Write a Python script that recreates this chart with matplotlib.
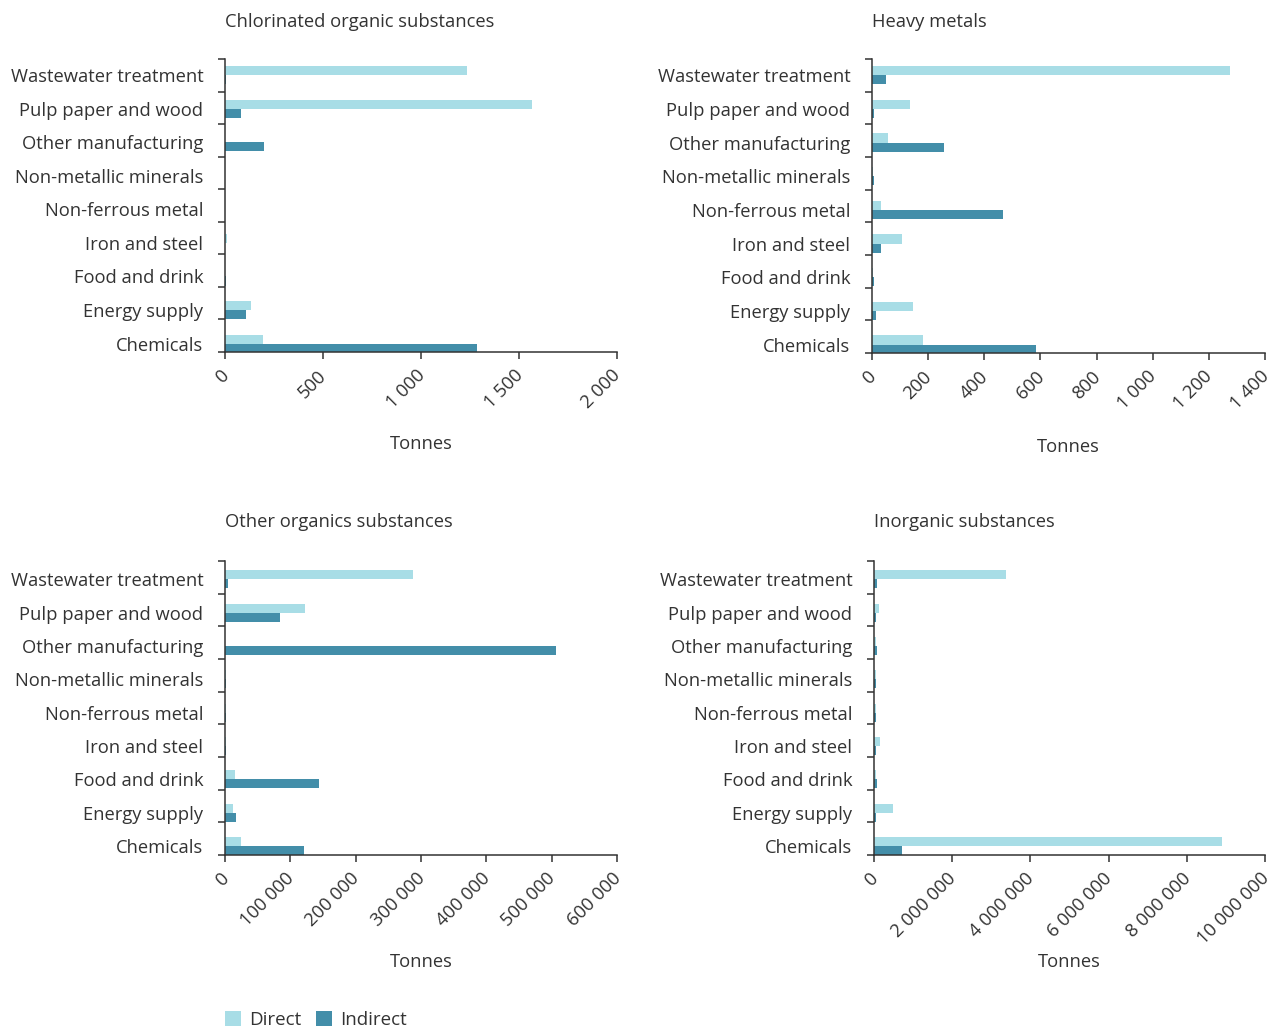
import numpy as np
import matplotlib
matplotlib.use("Agg")
import matplotlib.pyplot as plt
from matplotlib.ticker import FuncFormatter
from matplotlib.patches import Patch
import matplotlib.transforms as mtransforms

plt.rcParams['font.family'] = ['Open Sans', 'DejaVu Sans']

categories = ["Wastewater treatment", "Pulp paper and wood", "Other manufacturing",
              "Non-metallic minerals", "Non-ferrous metal", "Iron and steel",
              "Food and drink", "Energy supply", "Chemicals"]
series_names = ["Direct", "Indirect"]

chlorinated_direct = [1234, 1566, 0, 0, 1, 12, 1, 133, 194]
chlorinated_indirect = [4, 82, 199, 0, 1, 2, 4, 107, 1285]

heavy_direct = [1275, 135, 57, 5, 32, 107, 5, 146, 182]
heavy_indirect = [50, 6, 256, 7, 466, 32, 7, 14, 584]

organics_direct = [287700, 122400, 0, 1200, 1000, 1000, 15300, 12000, 24500]
organics_indirect = [4600, 84200, 506600, 1500, 1500, 1500, 143900, 17000, 120900]

inorganic_direct = [3380000, 130000, 50000, 45000, 45000, 150000, 45000, 486000, 8900000]
inorganic_indirect = [77000, 60000, 70000, 60000, 60000, 60000, 70000, 60000, 716000]

titles = ["Chlorinated organic substances", "Heavy metals",
          "Other organics substances", "Inorganic substances"]
xticks_list = [np.arange(0, 2001, 500), np.arange(0, 1401, 200),
               np.arange(0, 600001, 100000), np.arange(0, 10000001, 2000000)]
xlabel_text = "Tonnes"

LIGHT = "#a8dde6"
DARK = "#438ea9"
TXT = "#333333"
AX = "#333333"

W, H = 1272, 1028
fig = plt.figure(figsize=(W / 100, H / 100), dpi=100)

# pixel boxes: left, right, top, bottom ; ylim (bottom, top) in category units
boxes = [(225, 617, 59, 352), (872, 1265, 59, 353), (225, 617, 561, 855), (874, 1265, 561, 855)]
ylims = [(8.25, -0.48), (8.25, -0.48), (8.27, -0.55), (8.27, -0.55)]
xlab_y = [444, 447, 962, 962]
title_y = [22, 22, 522, 522]

data = [(chlorinated_direct, chlorinated_indirect), (heavy_direct, heavy_indirect),
        (organics_direct, organics_indirect), (inorganic_direct, inorganic_indirect)]

fmt = FuncFormatter(lambda v, p: f"{v:,.0f}".replace(",", " "))
FS = 13.2
bh = 0.27

for i, ((l, r, t, b), (d, ind)) in enumerate(zip(boxes, data)):
    ax = fig.add_axes([l / W, 1 - b / H, (r - l) / W, (b - t) / H])
    y = np.arange(len(categories))
    ax.barh(y - bh / 2, d, height=bh, color=LIGHT, label=series_names[0])
    ax.barh(y + bh / 2, ind, height=bh, color=DARK, label=series_names[1])
    xt = xticks_list[i]
    ax.set_xlim(0, xt[-1])
    ax.set_ylim(*ylims[i])
    ax.set_xticks(xt)
    ax.xaxis.set_major_formatter(fmt)
    ax.set_yticks(y)
    ax.set_yticklabels(categories)
    ax.set_yticks(np.linspace(ylims[i][0], ylims[i][1], len(categories) + 1), minor=True)
    ax.tick_params(axis='y', which='major', length=0, pad=15.5, labelsize=FS, labelcolor=TXT)
    ax.tick_params(axis='y', which='minor', length=5, width=1.1, color=AX)
    ax.tick_params(axis='x', which='major', length=5, width=1.1, color=AX, labelsize=FS,
                   labelcolor=TXT, pad=2)
    for lab in ax.get_xticklabels():
        lab.set_rotation(45)
        lab.set_ha('right')
        lab.set_va('center')
        lab.set_rotation_mode('anchor')
        lab.set_transform(lab.get_transform() + mtransforms.ScaledTranslation(1 / 100, -11 / 100, fig.dpi_scale_trans))
    for s in ['top', 'right']:
        ax.spines[s].set_visible(False)
    for s in ['left', 'bottom']:
        ax.spines[s].set_color(AX)
        ax.spines[s].set_linewidth(1.1)
    ax.set_xlabel(xlabel_text, fontsize=FS, color=TXT)
    ax.xaxis.set_label_coords(0.5, (b - xlab_y[i]) / (b - t))
    ax.xaxis.label.set_va('center')
    ax.text(0, (b - title_y[i]) / (b - t), titles[i], transform=ax.transAxes,
            ha='left', va='center', fontsize=FS, color=TXT)

handles = [Patch(facecolor=LIGHT, label=series_names[0]), Patch(facecolor=DARK, label=series_names[1])]
fig.legend(handles=handles, loc='center left', bbox_to_anchor=(225 / W, 1 - 1020 / H),
           ncol=2, frameon=False, fontsize=13.5, handlelength=0.85, handleheight=0.85,
           handletextpad=0.45, columnspacing=0.75, borderpad=0, borderaxespad=0, labelcolor=TXT)

fig.savefig("out.png", dpi=100)
